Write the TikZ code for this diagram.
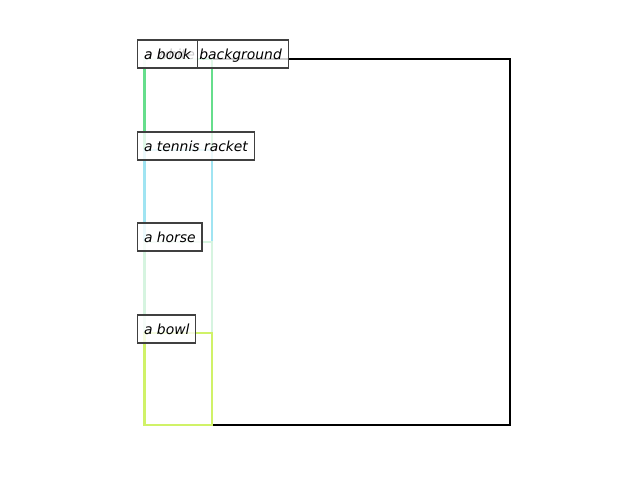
\documentclass[tikz,border=0pt]{standalone}
\usepackage{fontspec}
\setmainfont{DejaVu Sans}
\definecolor{cbook}{RGB}{102,222,140}
\definecolor{cracket}{RGB}{160,228,242}
\definecolor{chorse}{RGB}{214,244,224}
\definecolor{cbowl}{RGB}{208,242,104}
\definecolor{edgegray}{RGB}{64,64,64}
\begin{document}
\begin{tikzpicture}[x=0.72pt,y=-0.72pt,
  bgbox/.style={draw=black,line width=1.5pt},
  objbox/.style={line width=1.9pt},
  lbl/.style={draw=edgegray,line width=0.9pt,fill=white,fill opacity=0.8,text opacity=1,
    anchor=west,font=\itshape\fontsize{10}{12}\selectfont,inner xsep=4.6pt,inner ysep=0pt,
    minimum height=20pt,text height=8.6pt,text depth=1.2pt}]
\useasboundingbox (0,0) rectangle (640,480);
\draw[bgbox] (144,59) rectangle (510,425);
\draw[objbox,draw=cbook] (144.5,59) rectangle (212,150);
\draw[objbox,draw=cracket] (144.5,150) rectangle (212,242);
\draw[objbox,draw=chorse] (144.5,242) rectangle (212,333);
\draw[objbox,draw=cbowl] (144.5,333) rectangle (212,425);
\node[lbl] (bg) at (137,54) {a white background};
\node[lbl] (book) at (137,54) {a book};
\node[lbl] (racket) at (137,146) {a tennis racket};
\node[lbl] (horse) at (137,237) {a horse};
\node[lbl] (bowl) at (137,329) {a bowl};
\end{tikzpicture}
\end{document}
